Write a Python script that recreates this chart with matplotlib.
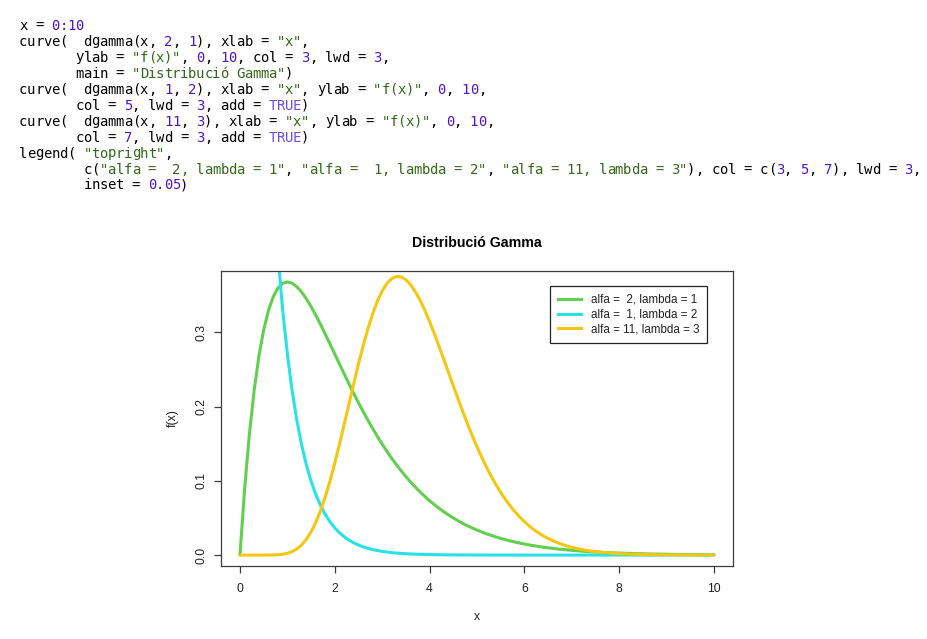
import re
import numpy as np
import matplotlib
matplotlib.use("Agg")
import matplotlib.pyplot as plt
from matplotlib.lines import Line2D

# ---------------- data ----------------
x_start, x_end, n_points = 0.0, 10.0, 101

alfa2_lambda1 = [
    0.0, 0.0905, 0.1637, 0.2222, 0.2681, 0.3033, 0.3293, 0.3476, 0.3595, 0.3659,
    0.3679, 0.3662, 0.3614, 0.3543, 0.3452, 0.3347, 0.3230, 0.3106, 0.2975, 0.2842,
    0.2707, 0.2572, 0.2438, 0.2306, 0.2177, 0.2052, 0.1931, 0.1815, 0.1703, 0.1596,
    0.1494, 0.1397, 0.1304, 0.1217, 0.1135, 0.1057, 0.0984, 0.0915, 0.0850, 0.0789,
    0.0733, 0.0679, 0.0630, 0.0583, 0.0540, 0.0500, 0.0462, 0.0427, 0.0395, 0.0365,
    0.0337, 0.0311, 0.0287, 0.0265, 0.0244, 0.0225, 0.0207, 0.0191, 0.0176, 0.0162,
    0.0149, 0.0137, 0.0126, 0.0116, 0.0106, 0.0098, 0.0090, 0.0082, 0.0076, 0.0070,
    0.0064, 0.0059, 0.0054, 0.0049, 0.0045, 0.0041, 0.0038, 0.0035, 0.0032, 0.0029,
    0.0027, 0.0025, 0.0023, 0.0021, 0.0019, 0.0017, 0.0016, 0.0014, 0.0013, 0.0012,
    0.0011, 0.0010, 0.0009, 0.0008, 0.0008, 0.0007, 0.0006, 0.0006, 0.0005, 0.0005,
    0.0005,
]

alfa1_lambda2 = [
    2.0, 1.6375, 1.3406, 1.0976, 0.8987, 0.7358, 0.6024, 0.4932, 0.4038, 0.3306,
    0.2707, 0.2216, 0.1814, 0.1485, 0.1216, 0.0996, 0.0815, 0.0667, 0.0546, 0.0447,
    0.0366, 0.0300, 0.0246, 0.0201, 0.0165, 0.0135, 0.0110, 0.0090, 0.0074, 0.0061,
    0.0050, 0.0041, 0.0033, 0.0027, 0.0022, 0.0018, 0.0015, 0.0012, 0.0010, 0.0008,
    0.0007, 0.00055, 0.00045, 0.00037, 0.0003, 0.00025, 0.0002, 0.00017, 0.00014, 0.00011,
    0.00009, 0.00007, 0.00006, 0.00005, 0.00004, 0.00003, 0.00003, 0.00002, 0.00002, 0.00002,
    0.0, 0.0, 0.0, 0.0, 0.0, 0.0, 0.0, 0.0, 0.0, 0.0,
    0.0, 0.0, 0.0, 0.0, 0.0, 0.0, 0.0, 0.0, 0.0, 0.0,
    0.0, 0.0, 0.0, 0.0, 0.0, 0.0, 0.0, 0.0, 0.0, 0.0,
    0.0, 0.0, 0.0, 0.0, 0.0, 0.0, 0.0, 0.0, 0.0, 0.0,
    0.0,
]

alfa11_lambda3 = [
    0.0, 0.0, 0.0, 0.0, 0.0, 0.00001, 0.00005, 0.00017, 0.00048, 0.00114,
    0.00243, 0.00467, 0.00826, 0.01362, 0.02118, 0.03127, 0.04416, 0.05998, 0.07871, 0.1001,
    0.1239, 0.1495, 0.1764, 0.2038, 0.2311, 0.2575, 0.2823, 0.3051, 0.3251, 0.3421,
    0.3557, 0.3658, 0.3723, 0.3752, 0.3746, 0.3708, 0.3641, 0.3547, 0.3431, 0.3296,
    0.3145, 0.2982, 0.2811, 0.2636, 0.2457, 0.2279, 0.2103, 0.1932, 0.1767, 0.1608,
    0.1458, 0.1317, 0.1185, 0.1062, 0.0948, 0.0844, 0.0749, 0.0662, 0.0583, 0.0513,
    0.0450, 0.0393, 0.0342, 0.0298, 0.0258, 0.0223, 0.0193, 0.0166, 0.0143, 0.0122,
    0.0105, 0.0089, 0.0076, 0.0065, 0.0055, 0.0047, 0.0039, 0.0033, 0.0028, 0.0024,
    0.0020, 0.0017, 0.0014, 0.0012, 0.00097, 0.00081, 0.00067, 0.00056, 0.00046, 0.00038,
    0.00032, 0.00026, 0.00021, 0.00018, 0.00014, 0.00012, 0.0001, 0.00008, 0.00006, 0.00005,
    0.00004,
]

series_labels = ["alfa =  2, lambda = 1", "alfa =  1, lambda = 2", "alfa = 11, lambda = 3"]
series_colors = ["#61D04F", "#28E2E5", "#F5C710"]
x_ticks = [0, 2, 4, 6, 8, 10]
x_tick_labels = ["0", "2", "4", "6", "8", "10"]
y_ticks = [0.0, 0.1, 0.2, 0.3]
y_tick_labels = ["0.0", "0.1", "0.2", "0.3"]
title = "Distribució Gamma"
x_label = "x"
y_label = "f(x)"

code_lines = [
    'x = 0:10',
    'curve(  dgamma(x, 2, 1), xlab = "x",',
    '       ylab = "f(x)", 0, 10, col = 3, lwd = 3,',
    '       main = "Distribució Gamma")',
    'curve(  dgamma(x, 1, 2), xlab = "x", ylab = "f(x)", 0, 10,',
    '       col = 5, lwd = 3, add = TRUE)',
    'curve(  dgamma(x, 11, 3), xlab = "x", ylab = "f(x)", 0, 10,',
    '       col = 7, lwd = 3, add = TRUE)',
    'legend( "topright",',
    '        c("alfa =  2, lambda = 1", "alfa =  1, lambda = 2", "alfa = 11, lambda = 3"), col = c(3, 5, 7), lwd = 3,',
    '        inset = 0.05)',
]

# ---------------- figure ----------------
W, H = 927, 639
fig = plt.figure(figsize=(W / 100, H / 100), dpi=100)
fig.patch.set_facecolor("white")

# code block as coloured text
code_font = "DejaVu Sans Mono"
code_size = 10.0
char_w = 8.05
code_x0 = 19.0
code_y0 = 29.5
line_h = 16.0
col_default = "#000000"
col_string = "#35681a"
col_number = "#5014c8"
col_keyword = "#6a50e6"
token_re = re.compile(r'"[^"]*"|TRUE|\d+(?::\d+|\.\d+)?|[A-Za-z_][A-Za-z_0-9.]*|\s+|.')
for i, line in enumerate(code_lines):
    ypix = code_y0 + i * line_h
    for m in token_re.finditer(line):
        tok = m.group(0)
        if tok.isspace():
            continue
        if tok.startswith('"'):
            c = col_string
        elif tok == "TRUE":
            c = col_keyword
        elif tok[0].isdigit():
            c = col_number
        else:
            c = col_default
        for k, ch in enumerate(tok):
            if ch == " ":
                continue
            xpix = code_x0 + (m.start() + k) * char_w
            fig.text(xpix / W, 1 - ypix / H, ch, color=c, family=code_font,
                     fontsize=code_size, ha="left", va="baseline")

# plot region
L, R_, T, B = 221, 733, 271, 566
ax = fig.add_axes([L / W, 1 - B / H, (R_ - L) / W, (B - T) / H])
x = np.linspace(x_start, x_end, n_points)
ymax = max(alfa2_lambda1)
pad = 0.04 * ymax
ax.set_xlim(x_start - 0.04 * (x_end - x_start), x_end + 0.04 * (x_end - x_start))
ax.set_ylim(-pad, ymax + pad)

for yv, c in zip([alfa2_lambda1, alfa1_lambda2, alfa11_lambda3], series_colors):
    ax.plot(x, yv, color=c, lw=2.2, solid_capstyle="round", solid_joinstyle="round")

plot_font = "Liberation Sans"
axis_col = "#3c3c3c"
tick_size = 8.8
for s in ax.spines.values():
    s.set_color(axis_col)
    s.set_linewidth(0.9)
ax.set_xticks(x_ticks)
ax.set_xticklabels(x_tick_labels, family=plot_font, fontsize=tick_size, color="#222222")
ax.set_yticks(y_ticks)
ax.set_yticklabels(y_tick_labels, family=plot_font, fontsize=tick_size, color="#222222",
                   rotation=90, va="center")
ax.tick_params(axis="both", direction="out", length=5, width=0.9, color=axis_col)
ax.tick_params(axis="x", pad=7.0)
ax.tick_params(axis="y", pad=5.0)

ax.set_xlabel(x_label, family=plot_font, fontsize=tick_size, color="#222222")
ax.xaxis.set_label_coords(0.5, (B - 617) / (B - T))
ax.xaxis.label.set_va("center")
ax.set_ylabel(y_label, family=plot_font, fontsize=tick_size, color="#222222")
ax.yaxis.set_label_coords((173 - L) / (R_ - L), 0.5)
ax.yaxis.label.set_va("center")

ax.set_title(title, family=plot_font, fontsize=10.2, fontweight="bold",
             y=(B - 242.7) / (B - T), pad=0, va="center")

handles = [Line2D([0], [0], color=c, lw=2.2) for c in series_colors]
leg = ax.legend(handles, series_labels, loc="upper right", bbox_to_anchor=(0.95, 0.95),
                borderaxespad=0, fancybox=False, framealpha=1, edgecolor="#222222",
                prop={"family": plot_font, "size": 8.4}, handlelength=2.0,
                handletextpad=0.85, labelspacing=0.25, borderpad=0.68)
leg.get_frame().set_linewidth(0.9)
for t in leg.get_texts():
    t.set_color("#222222")

fig.savefig("out.png", dpi=100, facecolor="white")
